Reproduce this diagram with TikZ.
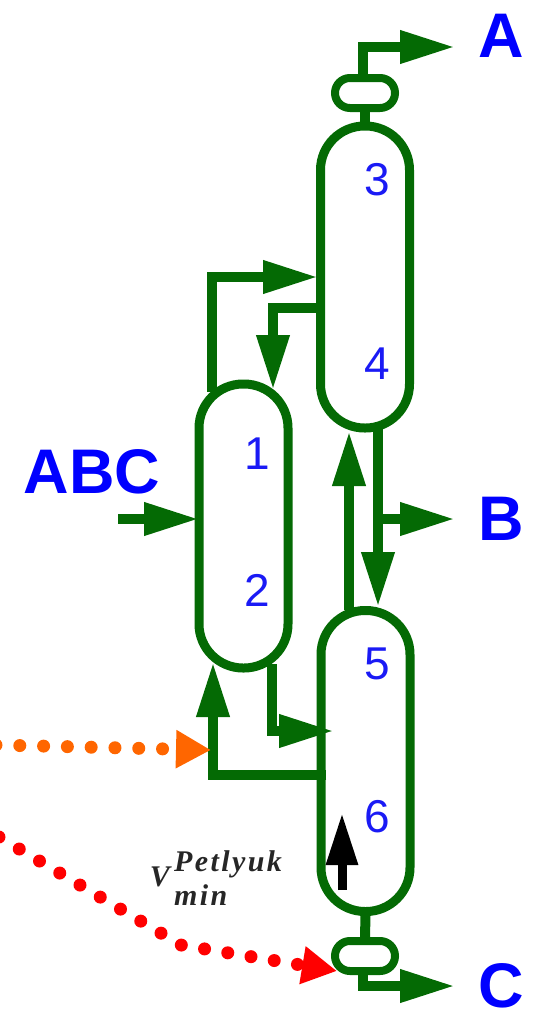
\documentclass[tikz,border=0pt]{standalone}
\usepackage{fontspec}
\setmainfont{Liberation Sans}
\newfontfamily\formulafont[LetterSpace=8]{Liberation Serif}
\usetikzlibrary{arrows.meta}
\definecolor{flowgreen}{HTML}{046A04}
\definecolor{stagetext}{HTML}{1A1AF5}
\definecolor{orangeline}{HTML}{FF6600}
\tikzset{
  column/.style={draw=flowgreen,line width=9pt,rounded corners=44pt,minimum width=89pt,outer sep=0pt,inner sep=0pt},
  drum/.style={draw=flowgreen,line width=8pt,rounded corners=15pt,minimum width=60pt,minimum height=30pt,outer sep=0pt,inner sep=0pt},
  pipe/.style={draw=flowgreen,line width=10pt},
  flow/.style={pipe,-{Triangle[length=55pt,width=31pt]}},
  stream/.style={text=blue,font=\fontsize{63}{63}\selectfont\bfseries,inner sep=0pt},
  stage/.style={text=stagetext,font=\fontsize{46}{46}\selectfont,inner sep=0pt},
  formula/.style={text=black!85,font=\formulafont\fontsize{30}{30}\selectfont\bfseries\itshape,inner sep=0pt},
}
\begin{document}
\begin{tikzpicture}[x=1pt,y=-1pt]
  \useasboundingbox (0,0) rectangle (539,1017);
  % columns
  \node[column,minimum height=302pt] (col34) at (365,277) {};
  \node[column,minimum height=284pt] (col12) at (243.5,526) {};
  \node[column,minimum height=301pt] (col56) at (365.5,761) {};
  \node[drum] (cond) at (365,93) {};
  \node[drum] (reb) at (365,956) {};
  % end points and bends
  \coordinate (condout) at (363,78);
  \coordinate (rebout) at (363,970);
  \coordinate (topout) at (455,47);
  \coordinate (midout) at (455,519);
  \coordinate (botout) at (455,986);
  \coordinate (feed) at (118,519);
  \coordinate (vapup) at (212,392);
  \coordinate (vapin) at (318,277);
  \coordinate (liqoff) at (325,308);
  \coordinate (liqin) at (273,390);
  \coordinate (liqlow) at (272,664);
  \coordinate (liqlowin) at (334,731);
  \coordinate (vapoff) at (326,775);
  \coordinate (vaplow) at (213,662);
  \coordinate (draw34) at (378,428);
  \coordinate (in56) at (378,607);
  \coordinate (off56) at (349,610);
  \coordinate (in34) at (349,431);
  \coordinate (side) at (378,519);
  \coordinate (heatlow) at (342,890);
  \coordinate (heatup) at (342,813);
  \coordinate (orangestart) at (-4,745);
  \coordinate (orangeend) at (211,750);
  \coordinate (redstart) at (-1,837);
  \coordinate (redbend) at (181,945);
  \coordinate (redend) at (337,971);
  % pipes
  \draw[pipe] (cond.south) -- (col34.north);
  \draw[pipe] (col56.south) -- (reb.north);
  \draw[flow] (condout) |- (topout);
  \draw[flow] (rebout) |- (botout);
  \draw[flow] (feed) -- (col12.west |- feed);
  \draw[flow] (vapup) |- (vapin);
  \draw[flow] (liqoff) -| (liqin);
  \draw[flow] (liqlow) |- (liqlowin);
  \draw[flow] (vapoff) -| (vaplow);
  \draw[flow] (draw34) -- (in56);
  \draw[flow] (off56) -- (in34);
  \draw[flow] (side) -- (midout);
  \draw[line width=9pt,-{Triangle[length=52pt,width=30pt]}] (heatlow) -- (heatup);
  % dotted lines
  \draw[orangeline,line width=13pt,line cap=round,dash pattern=on 0pt off 23.8pt,-{Triangle[length=35pt,width=36pt]}] (orangestart) -- (orangeend);
  \draw[red,line width=13pt,line cap=round,dash pattern=on 0pt off 23.55pt,-{Triangle[length=35pt,width=36pt]}] (redstart) -- (redbend) -- (redend);
  % labels
  \node[stream] (lblA) at (501,36) {A};
  \node[stream] (lblB) at (501,519) {B};
  \node[stream] (lblC) at (501,986) {C};
  \node[stream] (lblABC) at (92,472) {ABC};
  \node[stage] (s1) at (257,454) {1};
  \node[stage] (s2) at (257,590) {2};
  \node[stage] (s3) at (377,180) {3};
  \node[stage] (s4) at (377,364) {4};
  \node[stage] (s5) at (377,664) {5};
  \node[stage] (s6) at (377,817) {6};
  \node[formula] (vmin) at (160,877) {V};
  \node[formula,anchor=base west] (vsup) at (174,871) {Petlyuk};
  \node[formula,anchor=base west] (vsub) at (174,905) {min};
\end{tikzpicture}
\end{document}
